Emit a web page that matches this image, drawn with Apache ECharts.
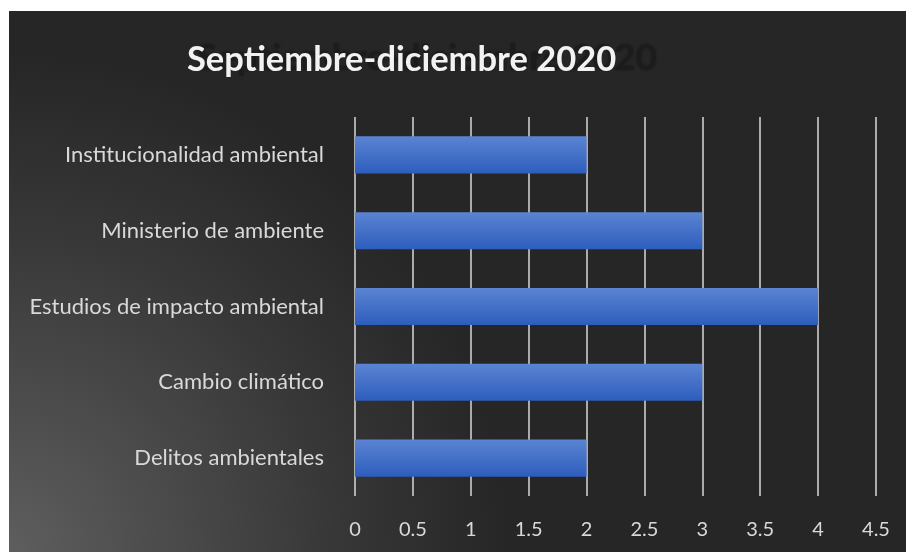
<!DOCTYPE html>
<html>
<head>
<meta charset="utf-8">
<script src="https://cdn.jsdelivr.net/npm/echarts@6/dist/echarts.min.js"></script>
<style>
  html, body { margin: 0; padding: 0; background: #fff; }
  #chart { position: absolute; left: 9px; top: 11px; width: 897px; height: 541px; }
</style>
</head>
<body>
<div id="chart"></div>
<script>
const titleText = 'Septiembre-diciembre 2020'
const categories = [
  'Delitos ambientales',
  'Cambio climático',
  'Estudios de impacto ambiental',
  'Ministerio de ambiente',
  'Institucionalidad ambiental',
]
const values = [2, 3, 4, 3, 2]
const axisMin = 0
const axisMax = 4.5
const axisStep = 0.5

const chart = echarts.init(document.getElementById('chart'))
const labelFont = 'Lato, "Open Sans", sans-serif'

chart.setOption({
  backgroundColor: {
    type: 'radial',
    x: 0,
    y: 1,
    r: 1,
    colorStops: [
      { offset: 0, color: '#5e5e5e' },
      { offset: 0.45, color: '#414141' },
      { offset: 0.62, color: '#363636' },
      { offset: 0.92, color: '#262626' },
      { offset: 1, color: '#262626' },
    ],
  },
  title: [
    {
      // dark ghost behind the title
      text: titleText,
      right: 244,
      top: 24,
      textStyle: {
        color: '#1c1c1c',
        fontFamily: labelFont,
        fontWeight: 'bold',
        fontSize: 37,
        textShadowColor: '#1c1c1c',
        textShadowBlur: 4,
      },
    },
    {
      text: titleText,
      left: 173,
      top: 26,
      textStyle: {
        color: '#f2f2f2',
        fontFamily: labelFont,
        fontWeight: 'bold',
        fontSize: 34.5,
      },
    },
  ],
  grid: {
    left: 346,
    right: 30,
    top: 106,
    bottom: 56,
  },
  xAxis: {
    type: 'value',
    min: axisMin,
    max: axisMax,
    interval: axisStep,
    axisLine: { show: false },
    axisTick: { show: false },
    axisLabel: {
      color: '#d9d9d9',
      fontFamily: labelFont,
      fontSize: 20,
      margin: 24,
    },
    splitLine: {
      lineStyle: { color: '#d9d9d9', width: 1.5 },
    },
  },
  yAxis: {
    type: 'category',
    data: categories,
    axisLine: { show: false },
    axisTick: { show: false },
    axisLabel: {
      color: '#d9d9d9',
      fontFamily: labelFont,
      fontSize: 22,
      margin: 31,
    },
  },
  series: [
    {
      type: 'bar',
      data: values,
      barWidth: '49%',
      itemStyle: {
        color: {
          type: 'linear',
          x: 0,
          y: 0,
          x2: 0,
          y2: 1,
          colorStops: [
            { offset: 0, color: '#5b84d2' },
            { offset: 1, color: '#2d5dbd' },
          ],
        },
        shadowColor: 'rgba(0, 0, 0, 0.6)',
        shadowBlur: 6,
        shadowOffsetY: 3,
      },
    },
  ],
})
</script>
</body>
</html>
